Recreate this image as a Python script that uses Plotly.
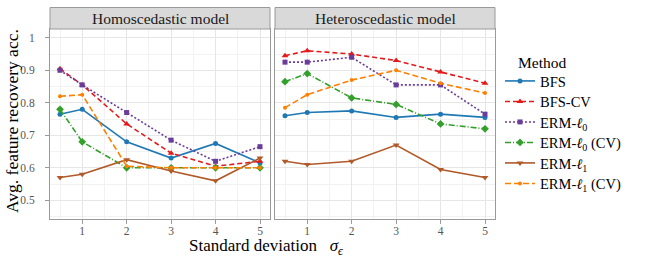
import plotly.graph_objects as go

x_vals = [0.5, 1, 2, 3, 4, 5]
methods = ["BFS", "BFS-CV", "ERM-ℓ0", "ERM-ℓ0 (CV)", "ERM-ℓ1", "ERM-ℓ1 (CV)"]
legend_labels = ["BFS", "BFS-CV", "ERM-<i>ℓ</i><sub>0</sub>", "ERM-<i>ℓ</i><sub>0</sub> (CV)",
                 "ERM-<i>ℓ</i><sub>1</sub>", "ERM-<i>ℓ</i><sub>1</sub> (CV)"]

homo_bfs = [0.765, 0.78, 0.68, 0.63, 0.675, 0.615]
homo_bfs_cv = [0.905, 0.855, 0.735, 0.645, 0.605, 0.62]
homo_erm_l0 = [0.9, 0.855, 0.77, 0.685, 0.62, 0.665]
homo_erm_l0_cv = [0.78, 0.68, 0.6, 0.6, 0.6, 0.6]
homo_erm_l1 = [0.57, 0.58, 0.625, 0.59, 0.56, 0.63]
homo_erm_l1_cv = [0.82, 0.825, 0.605, 0.6, 0.6, 0.6]

hetero_bfs = [0.76, 0.77, 0.775, 0.755, 0.765, 0.755]
hetero_bfs_cv = [0.945, 0.96, 0.95, 0.93, 0.895, 0.86]
hetero_erm_l0 = [0.925, 0.925, 0.94, 0.855, 0.855, 0.765]
hetero_erm_l0_cv = [0.865, 0.89, 0.815, 0.795, 0.735, 0.72]
hetero_erm_l1 = [0.62, 0.61, 0.62, 0.67, 0.595, 0.57]
hetero_erm_l1_cv = [0.785, 0.825, 0.87, 0.9, 0.86, 0.83]

panels = ["Homoscedastic model", "Heteroscedastic model"]
x_ticks = [1, 2, 3, 4, 5]
y_ticks = [0.5, 0.6, 0.7, 0.8, 0.9, 1.0]
y_tick_text = ["0.5", "0.6", "0.7", "0.8", "0.9", "1"]

homo = [homo_bfs, homo_bfs_cv, homo_erm_l0, homo_erm_l0_cv, homo_erm_l1, homo_erm_l1_cv]
hetero = [hetero_bfs, hetero_bfs_cv, hetero_erm_l0, hetero_erm_l0_cv, hetero_erm_l1, hetero_erm_l1_cv]

colors = ["#1F78B4", "#E31A1C", "#6A3D9A", "#33A02C", "#B15928", "#FF7F00"]
dashes = ["solid", "5px,3px", "2px,2px", "6px,2px,1px,2px", "solid", "6px,3px"]
symbols = ["circle", "triangle-up", "square", "diamond", "triangle-down", "circle"]
msizes = [5, 6, 5, 6, 6, 4]

FONT = "Liberation Serif"
W, H = 648, 263

px = lambda v: v / W
py = lambda v: 1 - v / H

legend_names = ["legend", "legend2", "legend3", "legend4", "legend5", "legend6"]
legend_y = [81, 101.5, 122, 142.5, 163, 183.5]

fig = go.Figure()
for p, data in enumerate([homo, hetero]):
    for i, m in enumerate(methods):
        fig.add_trace(go.Scatter(
            x=x_vals, y=data[i], mode="lines+markers",
            name=legend_labels[i], legendgroup=m, showlegend=(p == 0),
            legend=legend_names[i],
            line=dict(color=colors[i], width=1.6, dash=dashes[i]),
            marker=dict(color=colors[i], symbol=symbols[i], size=msizes[i]),
            xaxis="x" if p == 0 else "x2", yaxis="y" if p == 0 else "y2",
        ))

left_dom = [px(50), px(270)]
right_dom = [px(275), px(495)]
ydom = [py(219), py(29)]

axis_common = dict(
    showline=True, linecolor="#9A9A9A", linewidth=1, mirror=True,
    showgrid=True, gridcolor="#E6E6E6", gridwidth=1, zeroline=False,
    ticks="outside", ticklen=4, tickcolor="#9A9A9A",
    tickfont=dict(family=FONT, size=11.5, color="#555555"),
)
xa = dict(axis_common, range=[0.275, 5.225], tickvals=x_ticks, ticklabelstandoff=-3,
          minor=dict(tickvals=[0.5, 1.5, 2.5, 3.5, 4.5], showgrid=True, gridcolor="#F2F2F2", ticklen=0))
ya = dict(axis_common, range=[0.4425, 1.027], tickvals=y_ticks, ticktext=y_tick_text,
          ticklabelstandoff=8,
          minor=dict(tickvals=[0.45, 0.55, 0.65, 0.75, 0.85, 0.95], showgrid=True, gridcolor="#F2F2F2", ticklen=0))

layout_legends = {}
for name, yc in zip(legend_names, legend_y):
    layout_legends[name] = dict(
        x=px(500), y=py(yc), xanchor="left", yanchor="middle",
        font=dict(family=FONT, size=14.5), bgcolor="rgba(0,0,0,0)",
        itemwidth=30, borderwidth=0,
    )

fig.update_layout(
    width=W, height=H, margin=dict(l=0, r=0, t=0, b=0),
    paper_bgcolor="white", plot_bgcolor="white",
    font=dict(family=FONT, size=13, color="black"),
    xaxis=dict(xa, domain=left_dom, anchor="y"),
    yaxis=dict(ya, domain=ydom, anchor="x"),
    xaxis2=dict(xa, domain=right_dom, anchor="y2"),
    yaxis2=dict(ya, domain=ydom, anchor="x2", showticklabels=False, ticks=""),
    **layout_legends,
)

# strips
for dom, title in zip([left_dom, right_dom], panels):
    fig.add_shape(type="rect", xref="paper", yref="paper",
                  x0=dom[0], x1=dom[1], y0=py(29), y1=py(7.5),
                  fillcolor="#D9D9D9", line=dict(color="#9A9A9A", width=1))
    fig.add_annotation(text=title, xref="paper", yref="paper",
                       x=(dom[0] + dom[1]) / 2, y=py(18.5), showarrow=False,
                       font=dict(family=FONT, size=15.5, color="#1A1A1A"),
                       xanchor="center", yanchor="middle")

fig.add_annotation(text="Method", xref="paper", yref="paper",
                   x=px(516), y=py(63), showarrow=False,
                   font=dict(family=FONT, size=15.5), xanchor="left", yanchor="middle")
fig.add_annotation(text="Standard deviation   <i>σ</i><sub><i>ϵ</i></sub>", xref="paper", yref="paper",
                   x=px(266), y=py(247), showarrow=False,
                   font=dict(family=FONT, size=17), xanchor="center", yanchor="middle")
fig.add_annotation(text="Avg. feature recovery acc.", xref="paper", yref="paper",
                   x=px(12), y=py(121), showarrow=False, textangle=-90,
                   font=dict(family=FONT, size=17.5), xanchor="center", yanchor="middle")

fig.write_html("out.html", config={"displayModeBar": False},
               post_script="document.body.style.margin='0px';")
